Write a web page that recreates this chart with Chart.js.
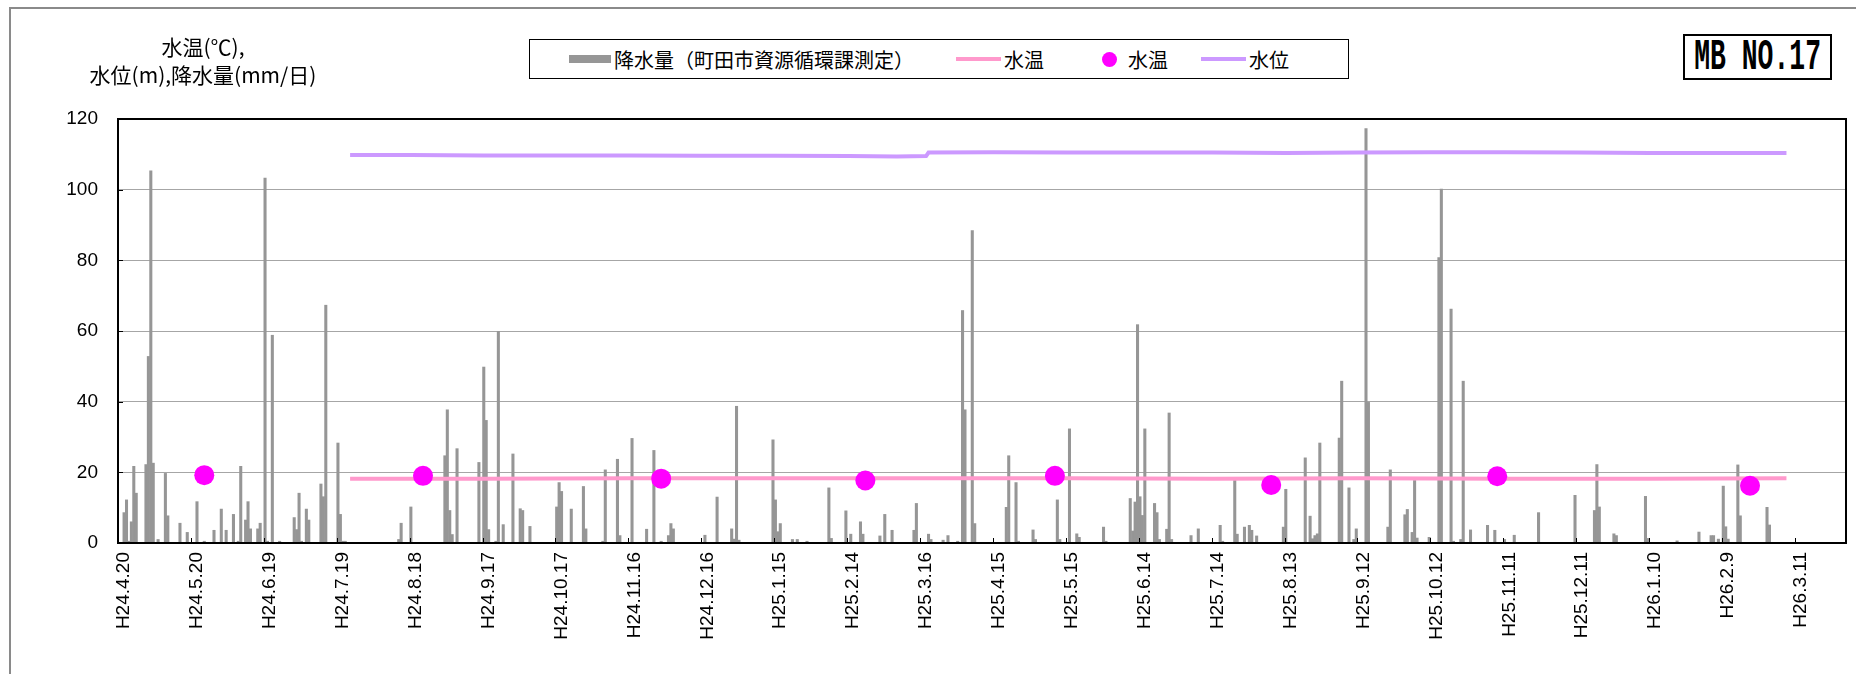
<!DOCTYPE html>
<html>
<head>
<meta charset="utf-8">
<script src="https://cdn.jsdelivr.net/npm/chart.js@4.4.1/dist/chart.umd.min.js"></script>
<style>
  html, body { margin: 0; padding: 0; background: #fff; }
  #wrap { position: relative; width: 1856px; height: 674px; overflow: hidden; }
  #frame { position: absolute; left: 9px; top: 7px; width: 1900px; height: 700px;
           border-left: 2px solid #8a8a8a; border-top: 2px solid #8a8a8a; box-sizing: border-box; }
  canvas { position: absolute; left: 0; top: 0; }
  .jp { font-family: "Noto Sans CJK JP", sans-serif; color: #000; }
  #ytitle { position: absolute; left: 73px; top: 32px; width: 260px; text-align: center;
            font-size: 21px; line-height: 28px; white-space: nowrap; }
  #legend { position: absolute; left: 529px; top: 39px; width: 820px; height: 40px;
            border: 1px solid #000; box-sizing: border-box; background: #fff; }
  .li { position: absolute; top: 0; height: 38px; display: flex; align-items: center;
        font-size: 20px; white-space: nowrap; }
  .sw { display: inline-block; margin-right: 3px; }
  #mb { position: absolute; left: 1683px; top: 34px; width: 149px; height: 46px;
        border: 2px solid #000; box-sizing: border-box; background: #fff;
        display: flex; align-items: center; justify-content: center; overflow: hidden; }
  #mb span { font-family: "Liberation Mono", monospace; font-weight: bold; font-size: 44px;
             display: inline-block; transform: scaleX(0.6); white-space: nowrap; }
</style>
</head>
<body>
<div id="wrap">
  <div id="frame"></div>
  <canvas id="c" width="1856" height="674"></canvas>
  <div id="ytitle" class="jp">水温(℃),<br>水位(m),降水量(mm/日)</div>
  <div id="legend" class="jp">
    <div class="li" style="left:39px;"><span class="sw" style="width:42px;height:8px;background:#969696;"></span>降水量（町田市資源循環課測定）</div>
    <div class="li" style="left:426px;"><span class="sw" style="width:45px;height:4px;background:#FF99CC;"></span>水温</div>
    <div class="li" style="left:572px;"><span class="sw" style="width:15px;height:15px;border-radius:50%;background:#FF00FF;margin-right:11px;"></span>水温</div>
    <div class="li" style="left:671px;"><span class="sw" style="width:45px;height:4px;background:#CC99FF;"></span>水位</div>
  </div>
  <div id="mb"><span>MB NO.17</span></div>
</div>
<script>
// ---- data (day offsets from H24.4.20) ----
const tickLabels = ['H24.4.20','H24.5.20','H24.6.19','H24.7.19','H24.8.18','H24.9.17','H24.10.17','H24.11.16',
  'H24.12.16','H25.1.15','H25.2.14','H25.3.16','H25.4.15','H25.5.15','H25.6.14','H25.7.14','H25.8.13',
  'H25.9.12','H25.10.12','H25.11.11','H25.12.11','H26.1.10','H26.2.9','H26.3.11'];

const rainDay = [2,3,4,5,6,7,11,12,13,14,16,19,20,25,28,32,35,39,42,44,47,49,50,52,53,54,57,58,60,61,63,66,
  72,73,74,75,77,78,83,84,85,90,91,92,93,115,116,120,134,135,136,137,139,148,150,151,152,155,156,158,162,
  165,166,169,180,181,182,186,191,192,199,200,205,206,211,217,220,223,226,227,228,241,246,252,253,254,255,
  269,270,271,272,277,279,283,292,293,299,301,305,306,313,315,318,327,328,333,334,339,341,345,347,348,351,
  352,365,366,369,370,376,377,386,387,391,394,395,405,406,416,417,418,419,420,421,422,426,427,428,431,432,
  433,441,444,453,454,459,460,463,465,466,468,479,480,488,490,491,492,493,494,502,503,506,508,509,513,514,
  522,523,529,530,532,533,534,539,543,544,548,549,552,553,556,563,566,570,574,584,599,607,608,609,615,616,
  628,629,641,650,655,656,658,660,661,662,666,667,678,679];
const rainMm = [8.6,12.2,0.5,6.0,21.7,14.1,22.2,52.8,105.3,22.6,1.0,19.7,7.7,5.6,3.0,11.7,0.5,3.6,9.6,3.6,8.1,0.5,21.7,6.5,11.7,4.0,4.0,5.6,103.3,0.5,58.8,0.5,
  7.2,3.8,14.1,0.5,9.6,6.5,16.7,13.1,67.3,28.3,8.1,0.5,0.5,1.0,5.6,10.2,24.7,37.7,9.2,2.4,26.7,22.8,49.8,34.7,3.8,0.5,59.9,5.2,25.2,
  9.7,9.2,4.7,10.2,17.1,14.6,9.6,16.0,4.0,0.5,20.7,23.7,2.1,29.6,3.9,26.2,0.5,2.1,5.5,4.0,2.2,13.0,4.0,1.1,38.7,0.8,
  29.2,12.2,3.2,5.5,1.0,1.0,0.5,15.6,1.3,9.1,2.5,6.0,2.5,2.0,8.1,3.6,3.6,11.2,2.5,1.0,0.8,2.1,0.5,65.8,37.7,88.4,
  5.5,10.1,24.7,17.1,0.5,3.7,1.0,12.2,1.0,32.3,2.6,1.6,4.5,0.5,12.6,3.4,11.6,61.8,13.1,7.8,32.3,11.2,8.6,1.0,3.9,36.8,
  1.0,2.1,4.0,5.0,0.5,17.7,2.5,4.5,5.0,3.6,2.0,4.5,15.2,24.1,7.6,1.2,2.1,2.6,28.3,29.7,45.8,15.6,1.0,4.0,117.3,39.8,
  4.5,20.7,8.0,9.5,3.0,17.7,1.4,1.6,80.8,100.2,66.2,0.5,1.0,45.8,3.7,5.0,3.6,1.0,2.2,8.6,13.5,9.2,22.2,10.2,2.6,2.1,
  13.2,1.3,0.6,3.1,2.1,2.1,1.1,16.1,4.6,1.1,22.1,7.7,10.1,5.1];

const tempLineDay = [95,150,210,270,330,390,450,510,570,630,686];
const tempLineC   = [18.2,18.2,18.3,18.3,18.3,18.3,18.2,18.3,18.2,18.2,18.3];

const tempDotDay = [35,125,223,307,385,474,567,671];
const tempDotC   = [19.2,19.0,18.2,17.7,19.0,16.4,18.9,16.2];

const levelDay = [95,120,150,180,210,240,270,300,320,332,333,360,390,420,450,480,510,540,570,600,630,660,686];
const levelM   = [109.8,109.8,109.7,109.7,109.7,109.6,109.6,109.5,109.4,109.5,110.5,110.6,110.5,110.5,110.5,110.4,110.5,110.6,110.6,110.5,110.4,110.4,110.4];

const yTicks = [0,20,40,60,80,100,120];

// ---- build library tables ----
const pts = (d, v) => d.map((x, i) => ({ x: x + 0.5, y: v[i] }));

const frame = {
  id: 'frame',
  afterDatasetsDraw(chart) {
    const { ctx, chartArea: a, scales } = chart;
    ctx.save();
    ctx.strokeStyle = '#000';
    ctx.lineWidth = 1;
    for (let i = 0; i < tickLabels.length; i++) {
      const x = Math.round(scales.x.getPixelForValue(i * 30)) + 0.5;
      ctx.beginPath(); ctx.moveTo(x, a.bottom); ctx.lineTo(x, a.bottom - 5); ctx.stroke();
    }
    yTicks.forEach(v => {
      const y = Math.round(scales.y.getPixelForValue(v)) + 0.5;
      ctx.beginPath(); ctx.moveTo(a.left, y); ctx.lineTo(a.left + 5, y); ctx.stroke();
    });
    ctx.lineWidth = 2;
    ctx.strokeRect(a.left, a.top, a.right - a.left, a.bottom - a.top);
    ctx.restore();
  }
};

new Chart(document.getElementById('c'), {
  data: {
    datasets: [
      { type: 'scatter', label: '水温', data: pts(tempDotDay, tempDotC), order: 1,
        pointRadius: 10, pointHoverRadius: 10, backgroundColor: '#FF00FF', borderWidth: 0 },
      { type: 'line', label: '水温', data: pts(tempLineDay, tempLineC), order: 2,
        borderColor: '#FF99CC', borderWidth: 4, pointRadius: 0, tension: 0, fill: false },
      { type: 'line', label: '水位', data: pts(levelDay, levelM), order: 3,
        borderColor: '#CC99FF', borderWidth: 4, pointRadius: 0, tension: 0, fill: false },
      { type: 'bar', label: '降水量(町田市資源循環課測定)', data: pts(rainDay, rainMm), order: 4,
        backgroundColor: '#969696', borderWidth: 0, barThickness: 2.4, grouped: false }
    ]
  },
  options: {
    responsive: false,
    animation: false,
    devicePixelRatio: 1,
    layout: { padding: { top: 119, left: 0, right: 10, bottom: 0 } },
    plugins: { legend: { display: false }, tooltip: { enabled: false } },
    scales: {
      x: {
        type: 'linear', min: 0, max: 711, offset: false,
        afterFit(s) { s.height = 131; },
        grid: { display: false, drawTicks: false },
        border: { display: false },
        ticks: {
          stepSize: 30, includeBounds: false, autoSkip: false,
          maxRotation: 90, minRotation: 90, padding: 9, labelOffset: 6,
          color: '#000', font: { family: '"Liberation Sans", sans-serif', size: 19 },
          callback: (v) => tickLabels[Math.round(v / 30)] ?? ''
        },
        afterBuildTicks(s) { s.ticks = tickLabels.map((_, i) => ({ value: i * 30 })); }
      },
      y: {
        type: 'linear', min: 0, max: 120,
        afterFit(s) { s.width = 118; },
        grid: { color: '#A6A6A6', lineWidth: 1, drawTicks: false },
        border: { display: false },
        ticks: {
          stepSize: 20, padding: 20, color: '#000',
          font: { family: '"Liberation Sans", sans-serif', size: 19 }
        },
        afterBuildTicks(s) { s.ticks = yTicks.map(v => ({ value: v })); }
      }
    }
  },
  plugins: [frame]
});
</script>
</body>
</html>
